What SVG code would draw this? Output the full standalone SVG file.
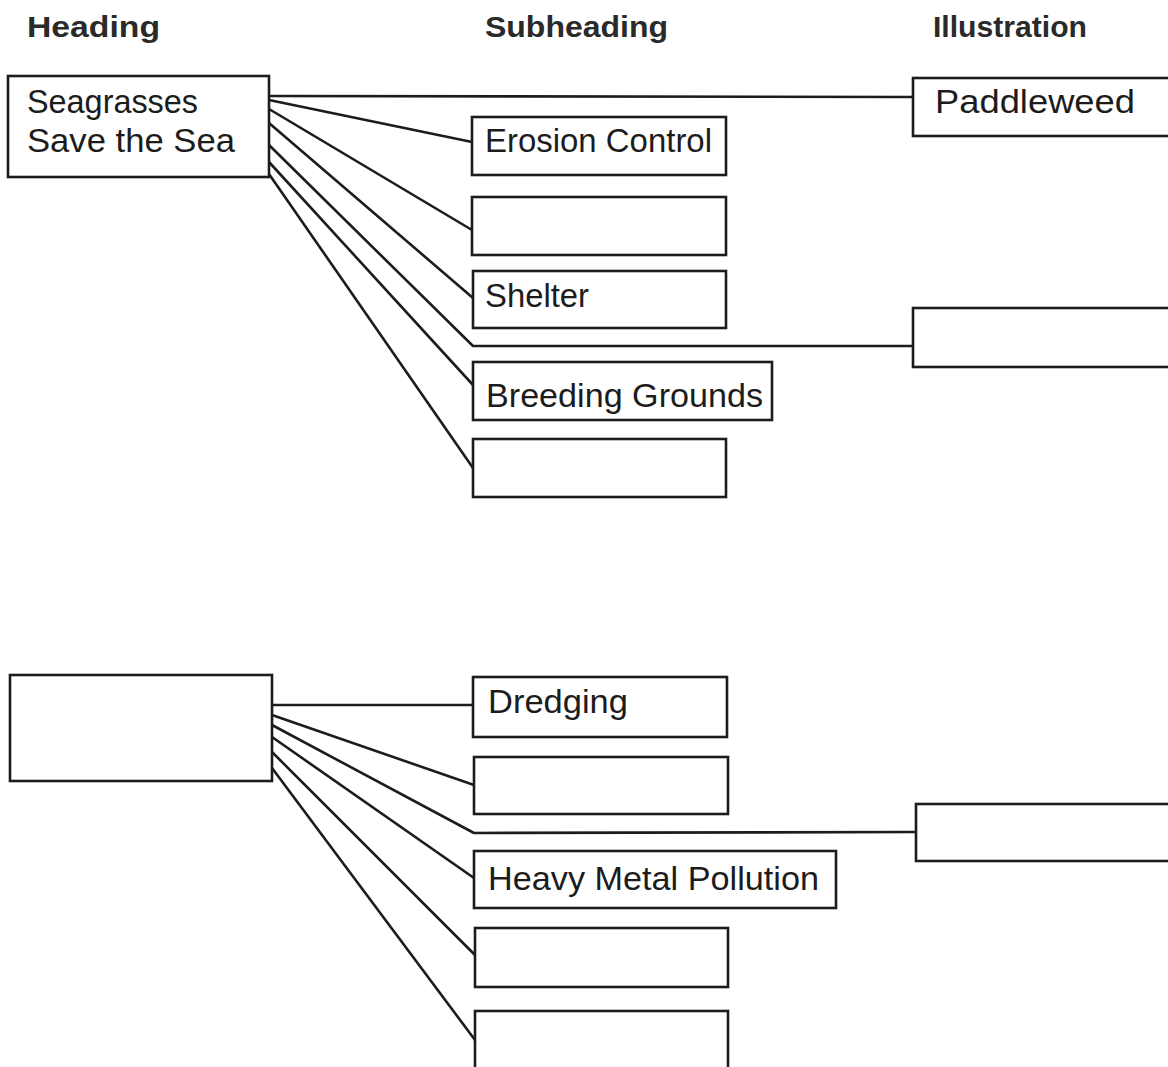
<svg xmlns="http://www.w3.org/2000/svg" width="1168" height="1067" viewBox="0 0 1168 1067">
  <style>
    .box { fill: #ffffff; stroke: #1c1c1c; stroke-width: 2.6; }
    .wire { fill: none; stroke: #1c1c1c; stroke-width: 2.6; stroke-linejoin: round; }
    .col { font-family: "Liberation Sans", Arial, sans-serif; font-weight: bold; font-size: 30px; fill: #2a2a2a; }
    .lbl { font-family: "Liberation Sans", Arial, sans-serif; font-size: 33px; fill: #1c1c1c; }
  </style>
  <rect width="1168" height="1067" fill="#ffffff"/>

  <!-- column titles -->
  <g id="titles">
    <text class="col" x="27" y="37" textLength="133" lengthAdjust="spacingAndGlyphs">Heading</text>
    <text class="col" x="485" y="37" textLength="183" lengthAdjust="spacingAndGlyphs">Subheading</text>
    <text class="col" x="933" y="37" textLength="154" lengthAdjust="spacingAndGlyphs">Illustration</text>
  </g>

  <!-- connectors -->
  <g id="connectors">
    <polyline class="wire" points="269,96 913,97"/>
    <polyline class="wire" points="269,100 472,142"/>
    <polyline class="wire" points="269,109 472,230"/>
    <polyline class="wire" points="269,123 473,298"/>
    <polyline class="wire" points="269,145 473,346 913,346"/>
    <polyline class="wire" points="269,162 473,385"/>
    <polyline class="wire" points="269,174 473,468"/>

    <polyline class="wire" points="272,705 473,705"/>
    <polyline class="wire" points="272,715 474,785"/>
    <polyline class="wire" points="272,725 474,833 916,832"/>
    <polyline class="wire" points="272,737 474,878"/>
    <polyline class="wire" points="272,752 475,955"/>
    <polyline class="wire" points="272,768 475,1040"/>
  </g>

  <!-- first web -->
  <g id="heading-1">
    <rect class="box" x="8" y="76" width="261" height="101"/>
    <text class="lbl" x="27" y="113" textLength="171" lengthAdjust="spacingAndGlyphs">Seagrasses</text>
    <text class="lbl" x="27" y="152" textLength="208" lengthAdjust="spacingAndGlyphs">Save the Sea</text>
  </g>
  <g id="illustration-paddleweed">
    <rect class="box" x="913" y="78" width="270" height="58"/>
    <text class="lbl" x="935" y="113" textLength="200" lengthAdjust="spacingAndGlyphs">Paddleweed</text>
  </g>
  <g id="sub-erosion">
    <rect class="box" x="472" y="117" width="254" height="58"/>
    <text class="lbl" x="485" y="152" textLength="227" lengthAdjust="spacingAndGlyphs">Erosion Control</text>
  </g>
  <g id="sub-blank-1">
    <rect class="box" x="472" y="197" width="254" height="58"/>
  </g>
  <g id="sub-shelter">
    <rect class="box" x="473" y="271" width="253" height="57"/>
    <text class="lbl" x="485" y="307" textLength="104" lengthAdjust="spacingAndGlyphs">Shelter</text>
  </g>
  <g id="illustration-blank-1">
    <rect class="box" x="913" y="308" width="270" height="59"/>
  </g>
  <g id="sub-breeding">
    <rect class="box" x="473" y="362" width="299" height="58"/>
    <text class="lbl" x="486" y="407" textLength="277" lengthAdjust="spacingAndGlyphs">Breeding Grounds</text>
  </g>
  <g id="sub-blank-2">
    <rect class="box" x="473" y="439" width="253" height="58"/>
  </g>

  <!-- second web -->
  <g id="heading-2">
    <rect class="box" x="10" y="675" width="262" height="106"/>
  </g>
  <g id="sub-dredging">
    <rect class="box" x="473" y="677" width="254" height="60"/>
    <text class="lbl" x="488" y="713" textLength="140" lengthAdjust="spacingAndGlyphs">Dredging</text>
  </g>
  <g id="sub-blank-3">
    <rect class="box" x="474" y="757" width="254" height="57"/>
  </g>
  <g id="illustration-blank-2">
    <rect class="box" x="916" y="804" width="270" height="57"/>
  </g>
  <g id="sub-heavy-metal">
    <rect class="box" x="474" y="851" width="362" height="57"/>
    <text class="lbl" x="488" y="890" textLength="331" lengthAdjust="spacingAndGlyphs">Heavy Metal Pollution</text>
  </g>
  <g id="sub-blank-4">
    <rect class="box" x="475" y="928" width="253" height="59"/>
  </g>
  <g id="sub-blank-5">
    <rect class="box" x="475" y="1011" width="253" height="80"/>
  </g>
</svg>
